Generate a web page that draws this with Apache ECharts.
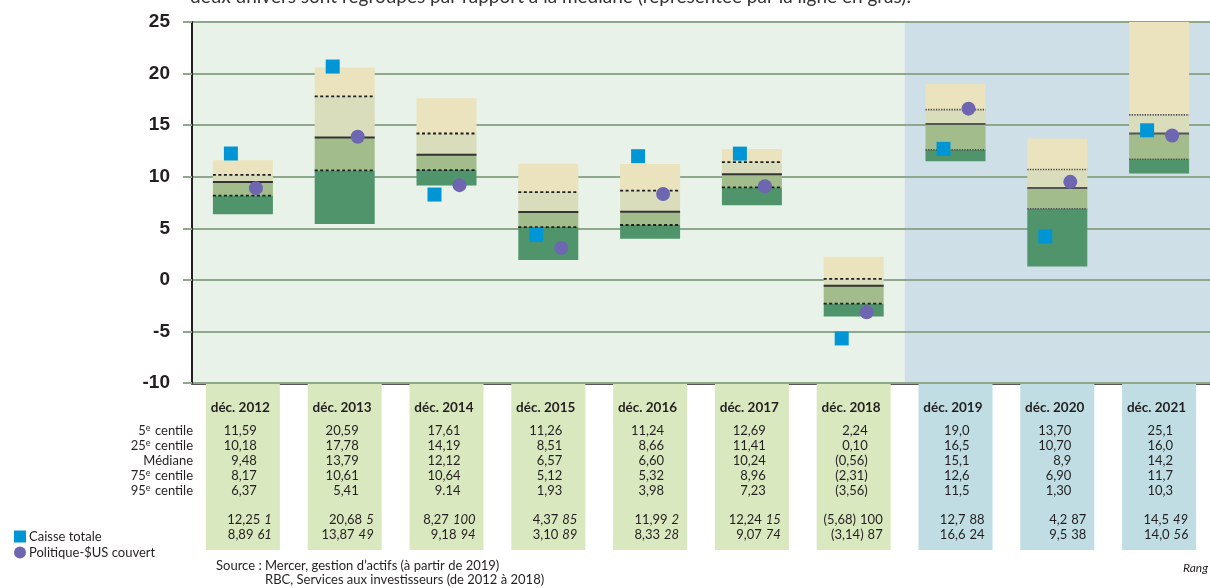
<!DOCTYPE html>
<html>
<head>
<meta charset="utf-8">
<script src="https://cdn.jsdelivr.net/npm/echarts@6/dist/echarts.min.js"></script>
<style>
  html, body { margin: 0; padding: 0; background: #fff; }
</style>
</head>
<body>
<div id="myChart" style="width:1210px;height:588px"></div>
<script>
// catégories
var years = ['déc. 2012', 'déc. 2013', 'déc. 2014', 'déc. 2015', 'déc. 2016', 'déc. 2017', 'déc. 2018', 'déc. 2019', 'déc. 2020', 'déc. 2021']
// univers : RBC (2012-2018) / Mercer (2019-2021)
var univers = ['rbc', 'rbc', 'rbc', 'rbc', 'rbc', 'rbc', 'rbc', 'mercer', 'mercer', 'mercer']

// centiles (5e = haut de la barre, 95e = bas)
var p5 = [11.59, 20.59, 17.61, 11.26, 11.24, 12.69, 2.24, 19.0, 13.70, 25.1]
var p25 = [10.18, 17.78, 14.19, 8.51, 8.66, 11.41, 0.10, 16.5, 10.70, 16.0]
var mediane = [9.48, 13.79, 12.12, 6.57, 6.60, 10.24, -0.56, 15.1, 8.9, 14.2]
var p75 = [8.17, 10.61, 10.64, 5.12, 5.32, 8.96, -2.31, 12.6, 6.90, 11.7]
var p95 = [6.37, 5.41, 9.14, 1.93, 3.98, 7.23, -3.56, 11.5, 1.30, 10.3]

// points
var caisse = [12.25, 20.68, 8.27, 4.37, 11.99, 12.24, -5.68, 12.7, 4.2, 14.5]
var politique = [8.89, 13.87, 9.18, 3.10, 8.33, 9.07, -3.14, 16.6, 9.5, 14.0]
var rangCaisse = ['1', '5', '100', '85', '2', '15', '100', '88', '87', '49']
var rangPolitique = ['61', '49', '94', '89', '28', '74', '87', '24', '38', '56']
var rangItalique = [true, true, true, true, true, true, false, false, false, true]

// textes du tableau, tels qu'imprimés
var txtP5 = ['11,59', '20,59', '17,61', '11,26', '11,24', '12,69', '2,24', '19,0', '13,70', '25,1']
var txtP25 = ['10,18', '17,78', '14,19', '8,51', '8,66', '11,41', '0,10', '16,5', '10,70', '16,0']
var txtMediane = ['9,48', '13,79', '12,12', '6,57', '6,60', '10,24', '(0,56)', '15,1', '8,9', '14,2']
var txtP75 = ['8,17', '10,61', '10,64', '5,12', '5,32', '8,96', '(2,31)', '12,6', '6,90', '11,7']
var txtP95 = ['6,37', '5,41', '9.14', '1,93', '3,98', '7,23', '(3,56)', '11,5', '1,30', '10,3']
var txtCaisse = ['12,25', '20,68', '8,27', '4,37', '11,99', '12,24', '(5,68)', '12,7', '4,2', '14,5']
var txtPolitique = ['8,89', '13,87', '9,18', '3,10', '8,33', '9,07', '(3,14)', '16,6', '9,5', '14,0']

var yTicks = { min: -10, max: 25, interval: 5 }

var FONT = 'Lato'
var INK = '#231f20'
var plotColors = { rbc: '#e8f2e8', mercer: '#cedfe8' }
var boxColors = { rbc: '#dae8bf', mercer: '#bfdde2' }
var bandColors = ['#ebe3bd', '#d9ddbb', '#a3bc8b', '#4f946a']

function renderBand (params, api) {
  var i = api.value(0)
  var cx = api.coord([i, 0])[0]
  var half = 30
  var ys = []
  for (var k = 1; k <= 5; k++) {
    ys.push(api.coord([i, api.value(k)])[1])
  }
  var fine = univers[i] === 'mercer'
  var dash = {
    stroke: fine ? '#4a4a4a' : '#1e1e1e',
    lineWidth: fine ? 1.6 : 1.8,
    lineDash: fine ? [1.3, 1.3] : [3, 2.5]
  }
  var children = []
  for (var b = 0; b < 4; b++) {
    children.push({
      type: 'rect',
      shape: { x: cx - half, y: ys[b], width: half * 2, height: ys[b + 1] - ys[b] },
      style: { fill: bandColors[b] }
    })
  }
  children.push({ type: 'line', shape: { x1: cx - half, y1: ys[1], x2: cx + half, y2: ys[1] }, style: dash })
  children.push({ type: 'line', shape: { x1: cx - half, y1: ys[3], x2: cx + half, y2: ys[3] }, style: dash })
  children.push({ type: 'line', shape: { x1: cx - half, y1: ys[2], x2: cx + half, y2: ys[2] }, style: { stroke: fine ? '#555' : '#333', lineWidth: 2 } })
  return { type: 'group', children: children }
}

var bandData = years.map(function (y, i) {
  return [i, p5[i], p25[i], mediane[i], p75[i], p95[i]]
})

var options = {
  animation: false,
  backgroundColor: '#fff',
  textStyle: { fontFamily: FONT, color: INK },
  grid: [
    { left: 192, top: 22, width: 1028, height: 361 },
    { left: 192, top: 384, width: 1028, height: 166 }
  ],
  xAxis: [{
    type: 'category',
    gridIndex: 0,
    data: years,
    boundaryGap: true,
    axisLine: { show: true, onZero: false, lineStyle: { color: INK, width: 2.5 } },
    axisTick: { show: false },
    axisLabel: { show: false },
    splitLine: { show: false },
    splitArea: {
      show: true,
      areaStyle: { color: univers.map(function (u) { return plotColors[u] }) }
    },
    z: 0
  }, {
    type: 'category',
    gridIndex: 1,
    data: years,
    show: false
  }],
  yAxis: [{
    type: 'value',
    gridIndex: 0,
    min: yTicks.min,
    max: yTicks.max,
    interval: yTicks.interval,
    axisLine: { show: true, onZero: false, lineStyle: { color: INK, width: 2 } },
    axisTick: { show: true, length: 9, lineStyle: { color: '#8ea88b', width: 2 } },
    axisLabel: {
      margin: 22,
      fontFamily: 'Liberation Sans',
      fontWeight: 'bold',
      fontSize: 19,
      color: INK
    },
    splitLine: { show: true, lineStyle: { color: '#8ea88b', width: 2 } },
    z: 3
  }, {
    type: 'value',
    gridIndex: 1,
    min: 0,
    max: 1,
    show: false
  }],
  legend: {
    orient: 'vertical',
    left: 9,
    top: 525,
    itemWidth: 12,
    itemHeight: 12,
    itemGap: 3,
    selectedMode: false,
    textStyle: { fontFamily: FONT, fontSize: 13, color: INK, padding: [0, 0, 0, -2] },
    data: [
      { name: 'Caisse totale', icon: 'rect' },
      { name: 'Politique-$US couvert', icon: 'circle' }
    ]
  },
  series: [{
    name: 'centiles',
    type: 'custom',
    xAxisIndex: 0,
    yAxisIndex: 0,
    clip: true,
    renderItem: renderBand,
    encode: { x: 0, y: [1, 2, 3, 4, 5] },
    data: bandData,
    z: 5
  }, {
    name: 'Caisse totale',
    type: 'scatter',
    xAxisIndex: 0,
    yAxisIndex: 0,
    symbol: 'rect',
    symbolSize: 14,
    symbolOffset: [-12, 0],
    itemStyle: { color: '#0096d6', opacity: 1 },
    data: caisse,
    z: 6
  }, {
    name: 'Politique-$US couvert',
    type: 'scatter',
    xAxisIndex: 0,
    yAxisIndex: 0,
    symbol: 'circle',
    symbolSize: 14,
    symbolOffset: [13, 0],
    itemStyle: { color: '#6e66b0', opacity: 1 },
    data: politique,
    z: 6
  }, {
    name: 'tableau',
    type: 'bar',
    xAxisIndex: 1,
    yAxisIndex: 1,
    barWidth: 74,
    barGap: '-100%',
    silent: true,
    data: years.map(function (y, i) {
      return { value: 1, itemStyle: { color: boxColors[univers[i]] } }
    }),
    label: {
      show: true,
      position: 'insideTop',
      distance: 8,
      align: 'right',
      offset: [27, 0],
      formatter: function (params) {
        var i = params.dataIndex
        return '{h|' + years[i] + '}\n' +
          '{p|' + txtP5[i] + '}\n' +
          '{p|' + txtP25[i] + '}\n' +
          '{p|' + txtMediane[i] + '}\n' +
          '{p|' + txtP75[i] + '}\n' +
          '{p|' + txtP95[i] + '}'
      },
      rich: {
        h: { fontFamily: FONT, fontWeight: 'bold', fontSize: 13.5, lineHeight: 31, color: INK },
        p: { fontFamily: FONT, fontSize: 13, lineHeight: 15, color: INK, padding: [0, 13, 0, 0] }
      }
    }
  }, {
    name: 'rangs',
    type: 'bar',
    xAxisIndex: 1,
    yAxisIndex: 1,
    barWidth: 74,
    barGap: '-100%',
    silent: true,
    itemStyle: { color: 'rgba(0,0,0,0)' },
    data: years.map(function () { return 1 }),
    label: {
      show: true,
      position: 'insideBottom',
      distance: 8,
      align: 'right',
      offset: [29, 0],
      formatter: function (params) {
        var i = params.dataIndex
        var r = rangItalique[i] ? 'ri' : 'rn'
        return '{v|' + txtCaisse[i] + '}{' + r + '|' + rangCaisse[i] + '}\n' +
          '{v|' + txtPolitique[i] + '}{' + r + '|' + rangPolitique[i] + '}'
      },
      rich: {
        v: { fontFamily: FONT, fontSize: 13, lineHeight: 15, color: INK },
        ri: { fontFamily: FONT, fontSize: 13, lineHeight: 15, color: INK, fontStyle: 'italic', padding: [0, 0, 0, 4] },
        rn: { fontFamily: FONT, fontSize: 13, lineHeight: 15, color: INK, padding: [0, 0, 0, 4] }
      }
    }
  }],
  graphic: [{
    type: 'text',
    left: 190,
    top: -13,
    silent: true,
    style: {
      text: 'deux univers sont regroupés par rapport à la médiane (représentée par la ligne en gras).',
      fontFamily: FONT,
      fontSize: 19,
      fill: '#333'
    }
  }, {
    type: 'text',
    x: 193,
    y: 423.5,
    silent: true,
    style: {
      text: '5{s|e} centile\n25{s|e} centile\nMédiane\n75{s|e} centile\n95{s|e} centile',
      align: 'right',
      verticalAlign: 'top',
      fontFamily: FONT,
      fontSize: 13,
      lineHeight: 15,
      fill: INK,
      rich: {
        s: { fontFamily: FONT, fontSize: 9, lineHeight: 15, verticalAlign: 'top', fill: INK, padding: [0, 1, 0, 0] }
      }
    }
  }, {
    type: 'text',
    x: 216,
    y: 566,
    silent: true,
    style: {
      text: 'Source : Mercer, gestion d\u2019actifs (à partir de 2019)',
      verticalAlign: 'middle',
      fontFamily: FONT,
      fontSize: 13,
      fill: INK
    }
  }, {
    type: 'text',
    x: 265,
    y: 580,
    silent: true,
    style: {
      text: 'RBC, Services aux investisseurs (de 2012 à 2018)',
      verticalAlign: 'middle',
      fontFamily: FONT,
      fontSize: 13,
      fill: INK
    }
  }, {
    type: 'text',
    x: 1208,
    y: 568,
    silent: true,
    style: {
      text: 'Rang',
      align: 'right',
      verticalAlign: 'middle',
      fontFamily: FONT,
      fontStyle: 'italic',
      fontSize: 12,
      fill: INK
    }
  }]
}

var myChart = echarts.init(document.getElementById('myChart'))
myChart.setOption(options)
</script>
</body>
</html>
